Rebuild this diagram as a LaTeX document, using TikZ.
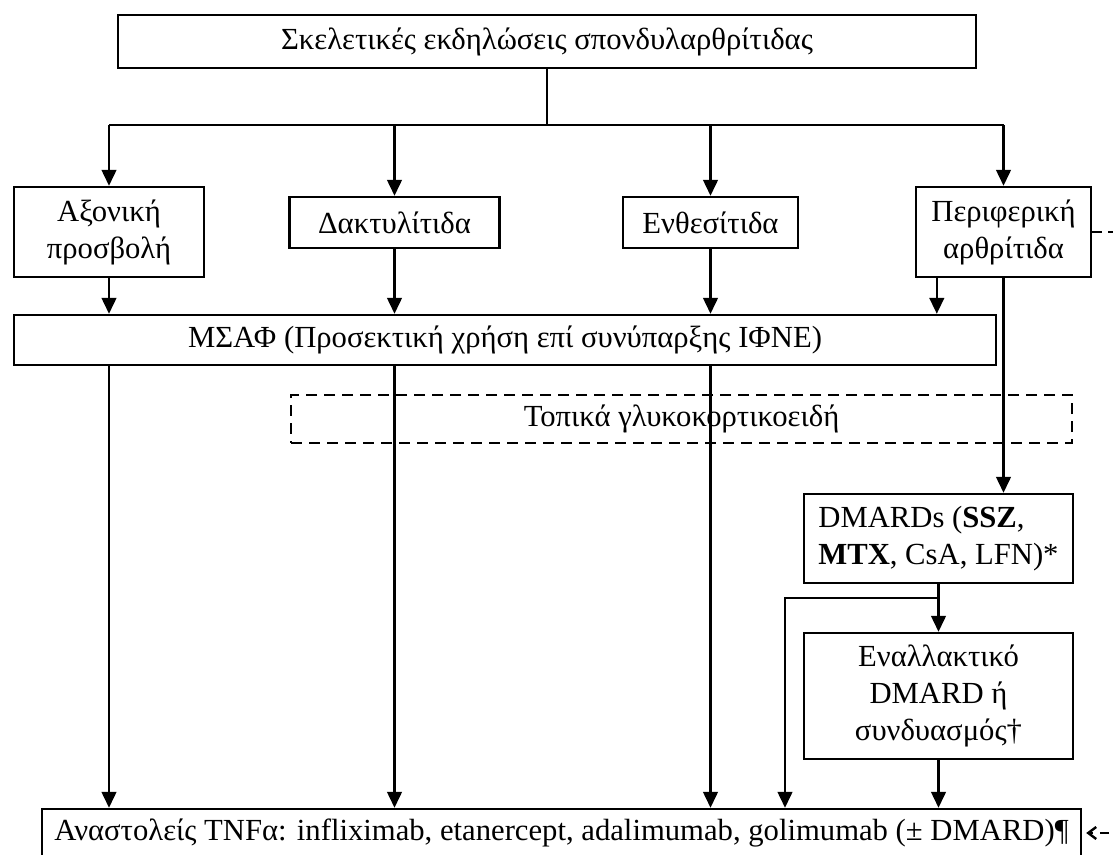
\documentclass[tikz,border=0pt]{standalone}
\usepackage{fontspec}
\setmainfont{Liberation Serif}
\usetikzlibrary{arrows.meta,calc}
\begin{document}
\begin{tikzpicture}[x=0.75pt,y=-0.75pt,
  box/.style={draw, line width=1.8pt, inner sep=0pt, align=center,
    font=\fontsize{23}{27.75}\selectfont},
  dbox/.style={box, dash pattern=on 8.5pt off 5pt},
  ln/.style={line width=1.8pt},
  arr/.style={ln, -{Triangle[width=11pt,length=12pt]}},
  farr/.style={line width=1.8pt, dash pattern=on 7pt off 5pt}]
\useasboundingbox (0,0) rectangle (1113,854);
\clip (0,0) rectangle (1113,854);

% boxes
\node[box, minimum width=643.5pt, minimum height=39.75pt] (top) at (547,41.5) {Σκελετικές εκδηλώσεις σπονδυλαρθρίτιδας};
\node[box, minimum width=142.5pt, minimum height=67.5pt] (ax) at (109,232) {Αξονική\\προσβολή};
\node[box, minimum width=157.5pt, minimum height=38.25pt] (dak) at (394.5,222.5) {Δακτυλίτιδα};
\node[box, minimum width=131.25pt, minimum height=38.25pt] (ent) at (710.5,222.5) {Ενθεσίτιδα};
\node[box, minimum width=131.25pt, minimum height=67.5pt] (per) at (1003.5,232) {Περιφερική\\αρθρίτιδα};
\node[box, minimum width=736.5pt, minimum height=37.5pt] (msaf) at (505,340) {ΜΣΑΦ (Προσεκτική χρήση επί συνύπαρξης ΙΦΝΕ)};
\node[dbox, minimum width=585.75pt, minimum height=36pt] (loc) at (681.5,419) {Τοπικά γλυκοκορτικοειδή};
\node[box, align=left, minimum width=201.75pt, minimum height=66.75pt] (dm) at (938.5,538.5) {DMARDs (\textbf{SSZ},\\\textbf{MTX}, CsA, LFN)*};
\node[box, minimum width=201.75pt, minimum height=94.5pt] (alt) at (938.5,696) {Εναλλακτικό\\DMARD ή\\συνδυασμός†};
\node[box, minimum width=779.25pt, minimum height=36pt] (bot) at (561.5,833) {Αναστολείς TNFα: infliximab, etanercept, adalimumab, golimumab (± DMARD)¶};

% coordinates
\coordinate (hub) at (547,125);
\coordinate (br) at (938,598);
\coordinate (bl) at (785,598);
\coordinate (rp) at (1125,232);
\coordinate (rb) at (1125,833);

% top distribution
\draw[ln] (top.south) -- (hub);
\draw[ln] (ax.north |- hub) -- (per.north |- hub);
\draw[arr] (ax.north |- hub) -- (ax.north);
\draw[arr] (dak.north |- hub) -- (dak.north);
\draw[arr] (ent.north |- hub) -- (ent.north);
\draw[arr] (per.north |- hub) -- (per.north);

% into MSAF
\draw[arr] (ax.south) -- (ax.south |- msaf.north);
\draw[arr] (dak.south) -- (dak.south |- msaf.north);
\draw[arr] (ent.south) -- (ent.south |- msaf.north);
\draw[arr] ($(per.south west)+(22,0)$) coordinate (pa) -- (pa |- msaf.north);

% MSAF down to TNF inhibitors
\draw[arr] (ax.south |- msaf.south) -- (ax.south |- bot.north);
\draw[arr] (dak.south |- msaf.south) -- (dak.south |- bot.north);
\draw[arr] (ent.south |- msaf.south) -- (ent.south |- bot.north);

% peripheral arthritis to DMARDs
\draw[arr] (per.south) -- (per.south |- dm.north);
\draw[arr] (dm.south) -- (alt.north);
\draw[arr] (br) -- (bl) -- (bl |- bot.north);
\draw[arr] (alt.south) -- (alt.south |- bot.north);

% dashed side connectors
\draw[farr] (per.east) -- (rp);
\draw[farr, -{Straight Barb[width=9pt,length=6pt]}, shorten >=3pt] (rb) -- (bot.east);
\end{tikzpicture}
\end{document}
